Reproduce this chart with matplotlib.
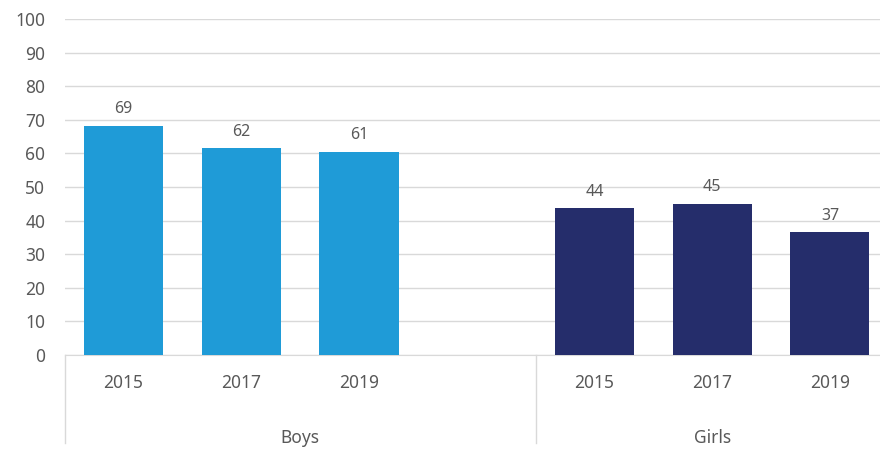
import matplotlib.pyplot as plt
from matplotlib.transforms import blended_transform_factory

groups = ['Boys', 'Girls']
years = ['2015', '2017', '2019']
boys = [68.3, 61.6, 60.5]
girls = [43.7, 45.0, 36.6]
boys_labels = ['69', '62', '61']
girls_labels = ['44', '45', '37']

plt.rcParams['font.family'] = ['Noto Sans', 'DejaVu Sans']
text_col = '#595959'
grid_col = '#d9d9d9'

fig = plt.figure(figsize=(8.8, 4.54), dpi=100)
ax = fig.add_axes([64.75 / 880, 99 / 454, 824 / 880, 336 / 454])

# 7 slots: 3 boys, an empty one, 3 girls
pos_b = [0, 1, 2]
pos_g = [4, 5, 6]
bw = 79 / 117.5
ax.bar(pos_b, boys, width=bw, color='#1f9bd7', zorder=3)
ax.bar(pos_g, girls, width=bw, color='#252d6b', zorder=3)

for x, v, s in zip(pos_b + pos_g, boys + girls, boys_labels + girls_labels):
    ax.annotate(s, (x, v), xytext=(0, 6), textcoords='offset points',
                ha='center', va='bottom', fontsize=11.5, color=text_col)

ax.set_xlim(-0.5, 6.5)
ax.set_ylim(0, 100)
ax.set_yticks(range(0, 101, 10))
ax.tick_params(axis='y', length=0, pad=14, labelsize=12.5, labelcolor=text_col)
ax.set_xticks([])
ax.grid(axis='y', color=grid_col, linewidth=1, zorder=0)
for s in ['top', 'right', 'left']:
    ax.spines[s].set_visible(False)
ax.spines['bottom'].set_color(grid_col)

tr = blended_transform_factory(ax.transData, ax.transAxes)
for x, y in zip(pos_b + pos_g, years + years):
    ax.text(x, -28 / 336, y, transform=tr, ha='center', va='center',
            fontsize=12.5, color=text_col)
for x in [-0.5, 3.5, 6.5]:
    ax.plot([x, x], [0, -88 / 336], transform=tr, color=grid_col,
            linewidth=1, clip_on=False)
ax.text(1.5, -83 / 336, groups[0], transform=tr, ha='center', va='center',
        fontsize=12.5, color=text_col)
ax.text(5.0, -83 / 336, groups[1], transform=tr, ha='center', va='center',
        fontsize=12.5, color=text_col)

fig.savefig('out.png', dpi=100)
